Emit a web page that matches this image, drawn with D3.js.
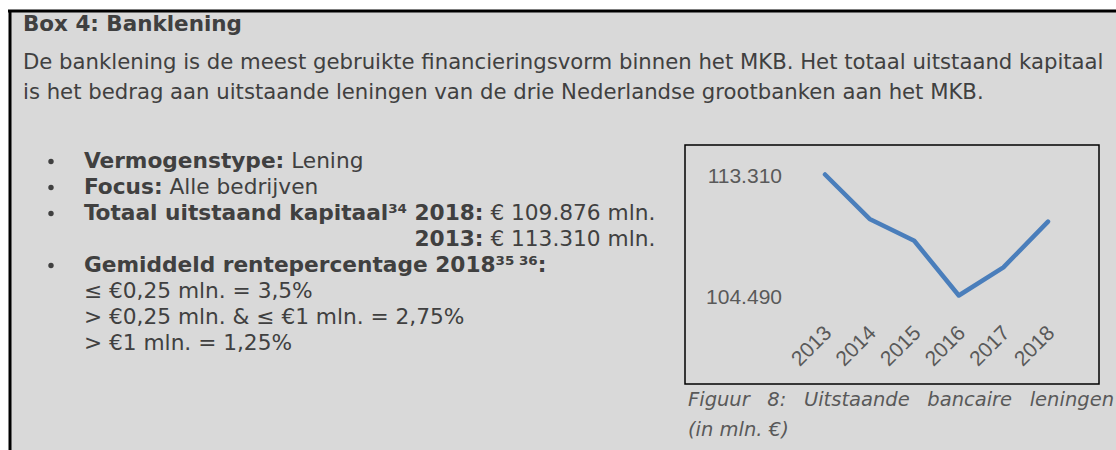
<!DOCTYPE html>
<html>
<head>
<meta charset="utf-8">
<script src="https://cdn.jsdelivr.net/npm/d3@7"></script>
<style>
  body { margin: 0; background: #fff; }
  svg { display: block; }
  .body { font-family: "DejaVu Sans", Verdana, sans-serif; fill: #404040; }
  .cond { font-family: "DejaVu Sans Condensed", "DejaVu Sans", sans-serif; font-stretch: condensed; fill: #404040; }
  .axis text { font-family: "Liberation Sans", Arial, sans-serif; fill: #595959; }
</style>
</head>
<body>
<script>
// data
var years = ["2013", "2014", "2015", "2016", "2017", "2018"];
var loans = [113310, 110070, 108480, 104490, 106540, 109876];
var yTicks = [104490, 113310];

var paragraph = [
  "De banklening is de meest gebruikte financieringsvorm binnen het MKB. Het totaal uitstaand kapitaal",
  "is het bedrag aan uitstaande leningen van de drie Nederlandse grootbanken aan het MKB."
];
var rentes = ["\u2264 \u20ac0,25 mln. = 3,5%", "> \u20ac0,25 mln. & \u2264 \u20ac1 mln. = 2,75%", "> \u20ac1 mln. = 1,25%"];

var W = 1116, H = 450;
var svg = d3.select("body").append("svg").attr("width", W).attr("height", H);

// grey box
svg.append("rect").attr("x", 9).attr("y", 10).attr("width", W - 9).attr("height", H - 10).attr("fill", "#d9d9d9");
svg.append("line").attr("x1", 8).attr("x2", W).attr("y1", 11).attr("y2", 11).attr("stroke", "#000").attr("stroke-width", 3);
svg.append("line").attr("x1", 10).attr("x2", 10).attr("y1", 10).attr("y2", H).attr("stroke", "#000").attr("stroke-width", 3);

// fit a text element's font size to a width
function fit(sel, width) {
  var w = sel.node().getComputedTextLength();
  var fs = parseFloat(sel.attr("font-size"));
  sel.attr("font-size", fs * width / w);
  return fs * width / w;
}

var title = svg.append("text").attr("class", "body").attr("x", 23).attr("y", 31)
  .attr("font-size", 17).attr("font-weight", "bold").text("Box 4: Banklening");
fit(title, 219);

var p1 = svg.append("text").attr("class", "body").attr("x", 23).attr("y", 69).attr("font-size", 18).text(paragraph[0]);
var pfs = fit(p1, 1081);
svg.append("text").attr("class", "body").attr("x", 23).attr("y", 99).attr("font-size", pfs).text(paragraph[1]);

// bullets (narrow type, squeezed a little in height)
var bx = 84, bfs = 18, squeeze = 0.87;
function bullet(y) {
  svg.append("circle").attr("cx", 51).attr("cy", y - 6.5).attr("r", 2.7).attr("fill", "#404040");
}
function line(y, parts, anchor, ax) {
  var t = svg.append("text").attr("class", "cond").attr("x", 0).attr("y", 0)
    .attr("transform", "translate(" + (ax || bx) + "," + y + ") scale(1," + squeeze + ")")
    .attr("font-size", bfs).attr("text-anchor", anchor || "start");
  parts.forEach(function (p) {
    var s = t.append("tspan").text(p[0]);
    if (p[1]) s.attr("font-weight", "bold");
    if (p[2]) s.attr("font-size", bfs * 0.62).attr("baseline-shift", "super");
  });
  return t;
}
var rows = [168, 194, 220, 246, 272, 298, 324, 350];
var totParts = [["Totaal uitstaand kapitaal", 1], ["34", 1, 1], ["  2018:", 1], [" \u20ac 109.876 mln."]];
// size the list so the capital line reaches its width in the picture
var probe = line(0, totParts);
bfs = bfs * 571 / probe.node().getComputedTextLength();
probe.remove();

bullet(rows[0]); line(rows[0], [["Vermogenstype:", 1], [" Lening"]]);
bullet(rows[1]); line(rows[1], [["Focus:", 1], [" Alle bedrijven"]]);
bullet(rows[2]);
var tot = line(rows[2], totParts);
var totEnd = bx + tot.node().getComputedTextLength();
line(rows[3], [["2013:", 1], [" \u20ac 113.310 mln."]], "end", totEnd);
bullet(rows[4]);
line(rows[4], [["Gemiddeld rentepercentage 2018", 1], ["35 36", 1, 1], [":", 1]]);
rentes.forEach(function (r, i) { line(rows[5 + i], [[r]]); });

// chart
var box = { x: 685, y: 145, w: 414, h: 239 };
svg.append("rect").attr("x", box.x).attr("y", box.y).attr("width", box.w).attr("height", box.h)
  .attr("fill", "none").attr("stroke", "#000").attr("stroke-width", 1.5);

var x = d3.scalePoint().domain(years).range([825, 1048]);
var y = d3.scaleLinear().domain([104490, 113310]).range([295.5, 174.5]);

var yAxis = svg.append("g").attr("class", "axis").attr("transform", "translate(782,0)")
  .call(d3.axisLeft(y).tickValues(yTicks).tickSize(0).tickPadding(0)
    .tickFormat(function (d) { return d3.format(",")(d).replace(/,/g, "."); }));
yAxis.select(".domain").remove();
yAxis.selectAll("text").attr("font-size", 21).attr("dy", "0.36em");

var xAxis = svg.append("g").attr("class", "axis").attr("transform", "translate(0,318)")
  .call(d3.axisBottom(x).tickSize(0));
xAxis.select(".domain").remove();
xAxis.selectAll("text").attr("font-size", 21).attr("text-anchor", "end")
  .attr("dy", "0.35em").attr("y", 0).attr("transform", "translate(2,11) rotate(-45)");

svg.append("path").datum(loans)
  .attr("fill", "none").attr("stroke", "#4a7ebb").attr("stroke-width", 4.5)
  .attr("stroke-linecap", "round").attr("stroke-linejoin", "round")
  .attr("d", d3.line().x(function (d, i) { return x(years[i]); }).y(function (d) { return y(d); }));

// caption
var cap1 = svg.append("text").attr("x", 688).attr("y", 406).attr("font-size", 19.5)
  .attr("font-style", "italic").attr("class", "body").style("fill", "#595959")
  .text("Figuur 8: Uitstaande bancaire leningen");
var cw = cap1.node().getComputedTextLength();
cap1.attr("word-spacing", (1114 - 688 - cw) / 4);
svg.append("text").attr("x", 688).attr("y", 436).attr("font-size", 19.5)
  .attr("font-style", "italic").attr("class", "body").style("fill", "#595959")
  .text("(in mln. \u20ac)");
</script>
</body>
</html>
